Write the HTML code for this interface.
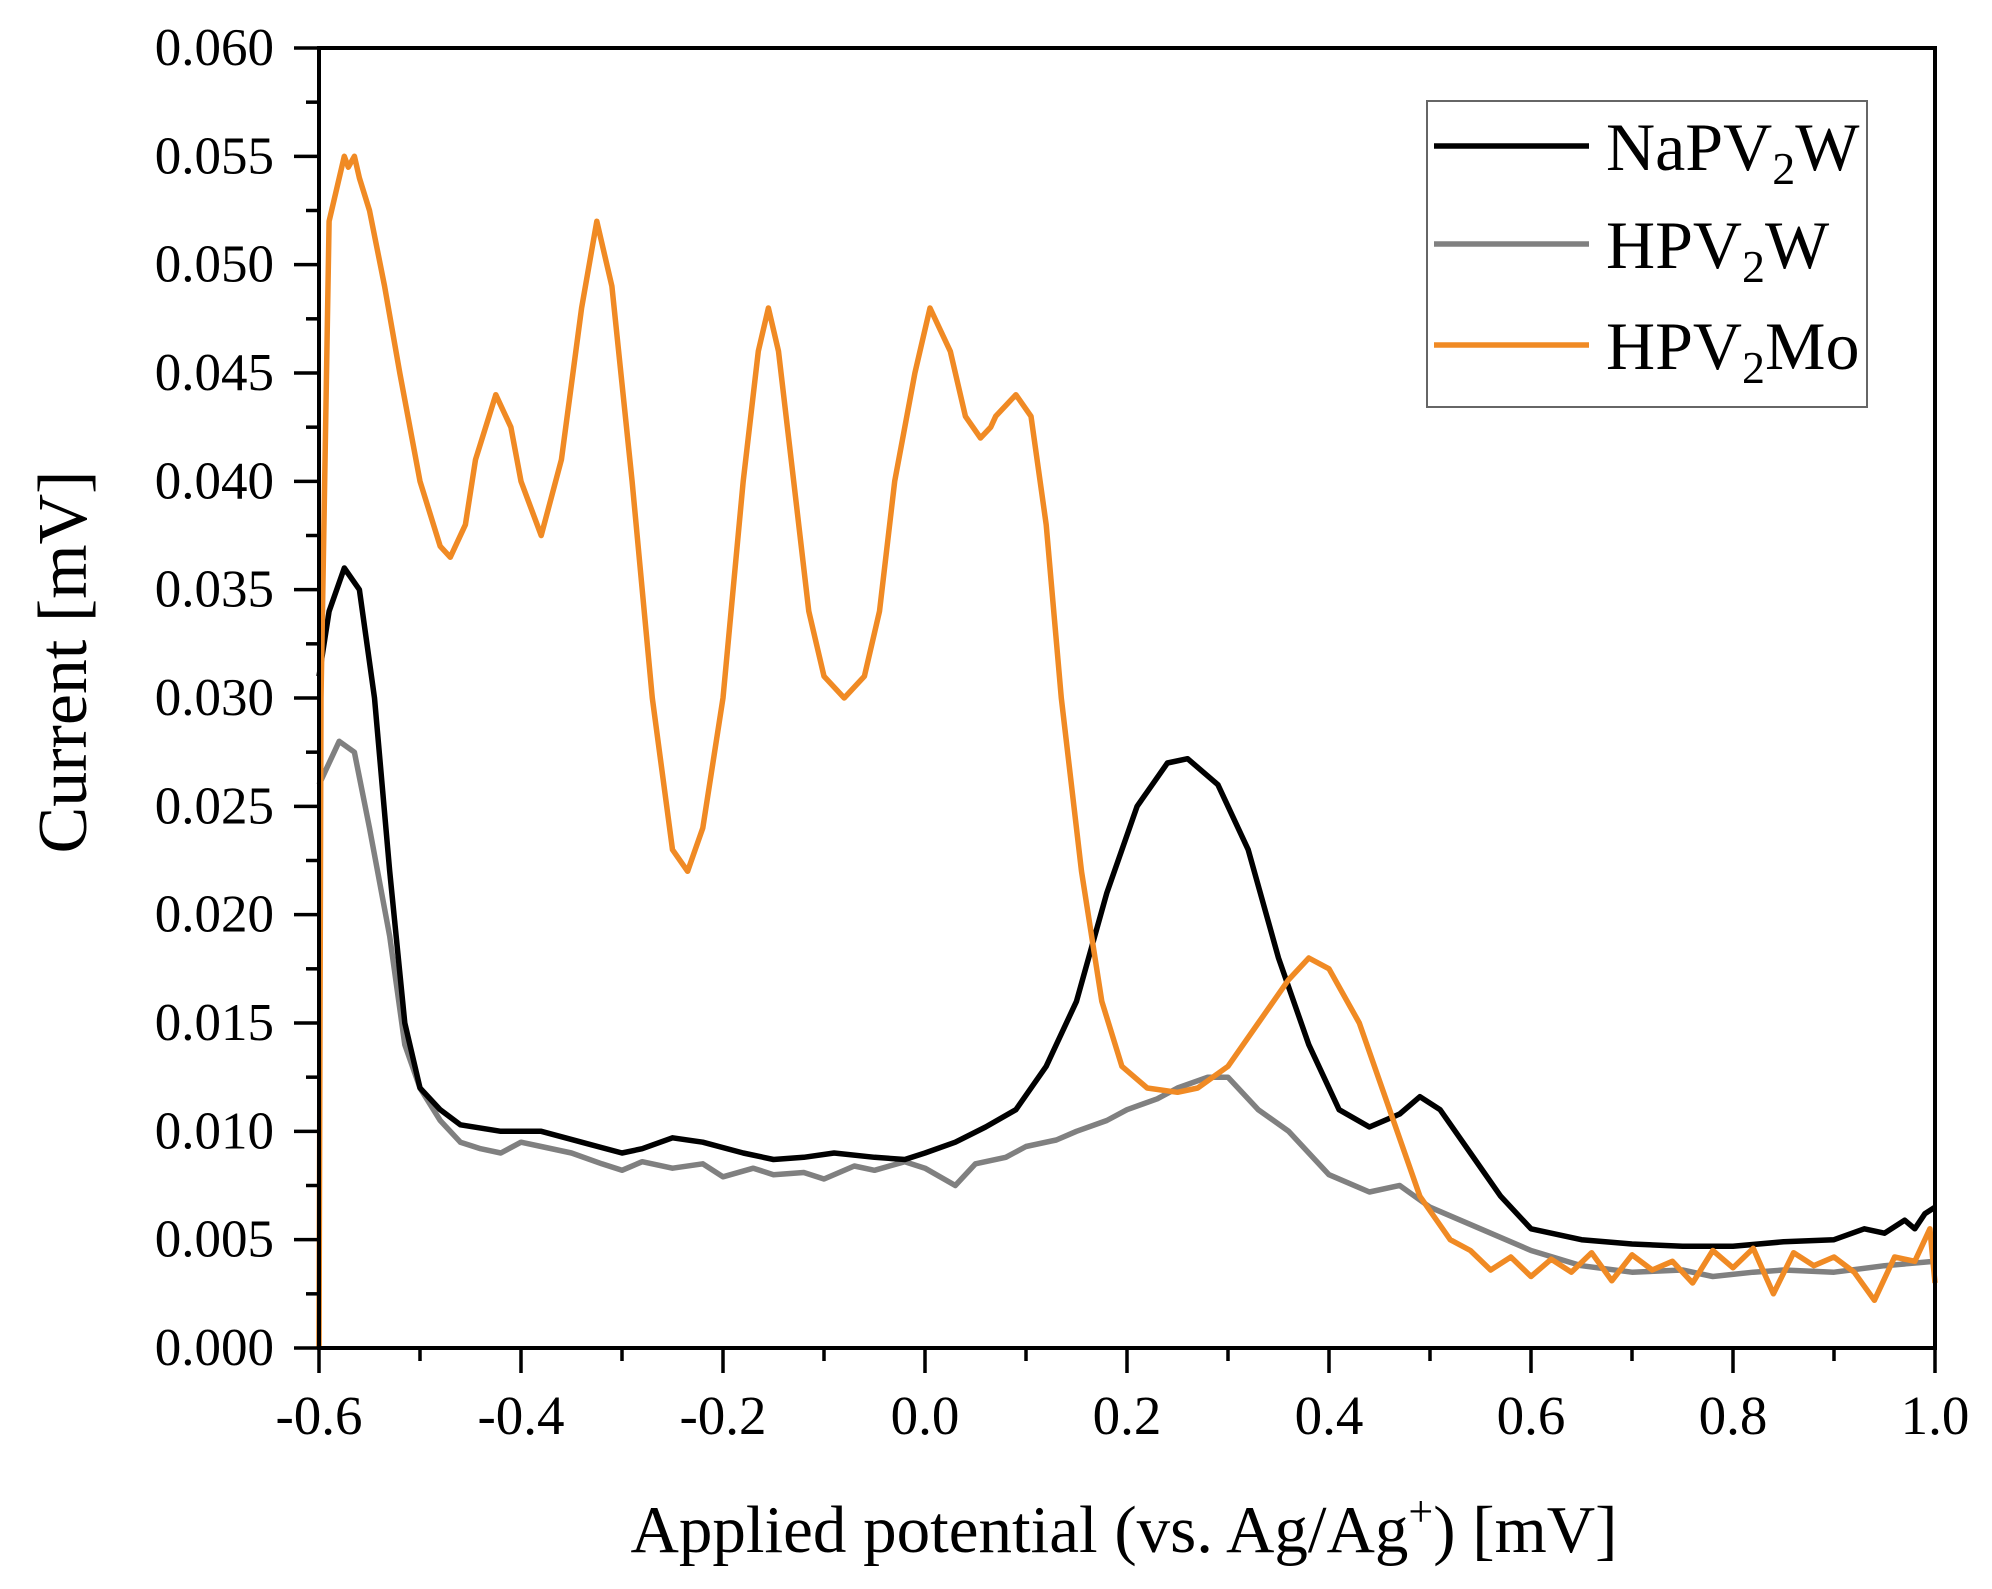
<!DOCTYPE html>
<html><head><meta charset="utf-8"><style>
html,body{margin:0;padding:0;background:#fff;}
svg{display:block;font-family:"Liberation Serif",serif;}
</style></head><body>
<svg id="chart" width="1992" height="1589" viewBox="0 0 1992 1589" xmlns="http://www.w3.org/2000/svg">
<g id="plot"></g>
<g id="axes"></g>
<text transform="translate(86,662) rotate(-90)" text-anchor="middle" font-size="70">Current [mV]</text>
<text x="1124" y="1552" text-anchor="middle" font-size="67">Applied potential (vs. Ag/Ag<tspan dy="-26" font-size="44">+</tspan><tspan dy="26">) [mV]</tspan></text>
<g>
<rect x="1427" y="101" width="440" height="306" fill="#fff" stroke="#666" stroke-width="2"/>
<g>
<line x1="1434" y1="146" x2="1589" y2="146" stroke="#000" stroke-width="5.5"/>
<text x="1606" y="170" font-size="68">NaPV<tspan dy="14" font-size="46">2</tspan><tspan dy="-14">W</tspan></text></g>
<g>
<line x1="1434" y1="244" x2="1589" y2="244" stroke="#808080" stroke-width="5.5"/>
<text x="1606" y="268" font-size="68">HPV<tspan dy="14" font-size="46">2</tspan><tspan dy="-14">W</tspan></text></g>
<g>
<line x1="1434" y1="345" x2="1589" y2="345" stroke="#f08a24" stroke-width="5.5"/>
<text x="1606" y="369" font-size="68">HPV<tspan dy="14" font-size="46">2</tspan><tspan dy="-14">Mo</tspan></text></g>
</g>
</svg>
<script>
const xTicks = [-0.6,-0.4,-0.2,0.0,0.2,0.4,0.6,0.8,1.0];
const xTickLabels = ["-0.6","-0.4","-0.2","0.0","0.2","0.4","0.6","0.8","1.0"];
const yTicks = [0,0.005,0.01,0.015,0.02,0.025,0.03,0.035,0.04,0.045,0.05,0.055,0.06];
const yTickLabels = ["0.000","0.005","0.010","0.015","0.020","0.025","0.030","0.035","0.040","0.045","0.050","0.055","0.060"];

const orangeX = [-0.6,-0.598,-0.59,-0.575,-0.571,-0.565,-0.56,-0.55,-0.535,-0.52,-0.5,-0.48,-0.47,-0.455,-0.445,-0.425,-0.41,-0.4,-0.38,-0.36,-0.34,-0.325,-0.31,-0.29,-0.27,-0.25,-0.235,-0.22,-0.2,-0.18,-0.165,-0.155,-0.145,-0.13,-0.115,-0.1,-0.08,-0.06,-0.045,-0.03,-0.01,0.005,0.025,0.04,0.055,0.065,0.07,0.08,0.09,0.105,0.12,0.135,0.155,0.175,0.195,0.22,0.25,0.27,0.3,0.33,0.36,0.38,0.4,0.43,0.46,0.49,0.52,0.54,0.56,0.58,0.6,0.62,0.64,0.66,0.68,0.7,0.72,0.74,0.76,0.78,0.8,0.82,0.84,0.86,0.88,0.9,0.92,0.94,0.96,0.98,0.995,1.0];
const orangeY = [0,0.03,0.052,0.055,0.0545,0.055,0.054,0.0525,0.049,0.045,0.04,0.037,0.0365,0.038,0.041,0.044,0.0425,0.04,0.0375,0.041,0.048,0.052,0.049,0.04,0.03,0.023,0.022,0.024,0.03,0.04,0.046,0.048,0.046,0.04,0.034,0.031,0.030,0.031,0.034,0.040,0.045,0.048,0.046,0.043,0.042,0.0425,0.043,0.0435,0.044,0.043,0.038,0.030,0.022,0.016,0.013,0.012,0.0118,0.012,0.013,0.015,0.017,0.018,0.0175,0.015,0.011,0.007,0.005,0.0045,0.0036,0.0042,0.0033,0.0041,0.0035,0.0044,0.0031,0.0043,0.0036,0.0040,0.0030,0.0045,0.0037,0.0046,0.0025,0.0044,0.0038,0.0042,0.0035,0.0022,0.0042,0.0040,0.0055,0.003];

const blackX = [-0.6,-0.59,-0.575,-0.56,-0.545,-0.53,-0.515,-0.5,-0.48,-0.46,-0.42,-0.38,-0.34,-0.3,-0.28,-0.25,-0.22,-0.18,-0.15,-0.12,-0.09,-0.05,-0.02,0.0,0.03,0.06,0.09,0.12,0.15,0.18,0.21,0.24,0.26,0.29,0.32,0.35,0.38,0.41,0.44,0.47,0.49,0.51,0.54,0.57,0.6,0.65,0.7,0.75,0.8,0.85,0.9,0.93,0.95,0.97,0.98,0.99,1.0];
const blackY = [0.031,0.034,0.036,0.035,0.030,0.022,0.015,0.012,0.011,0.0103,0.010,0.010,0.0095,0.009,0.0092,0.0097,0.0095,0.009,0.0087,0.0088,0.009,0.0088,0.0087,0.009,0.0095,0.0102,0.011,0.013,0.016,0.021,0.025,0.027,0.0272,0.026,0.023,0.018,0.014,0.011,0.0102,0.0108,0.0116,0.011,0.009,0.007,0.0055,0.005,0.0048,0.0047,0.0047,0.0049,0.005,0.0055,0.0053,0.0059,0.0055,0.0062,0.0065];

const grayX = [-0.6,-0.59,-0.58,-0.565,-0.55,-0.53,-0.515,-0.5,-0.48,-0.46,-0.44,-0.42,-0.4,-0.38,-0.35,-0.32,-0.3,-0.28,-0.25,-0.22,-0.2,-0.17,-0.15,-0.12,-0.1,-0.07,-0.05,-0.02,0.0,0.03,0.05,0.08,0.1,0.13,0.15,0.18,0.2,0.23,0.25,0.28,0.3,0.33,0.36,0.4,0.44,0.47,0.5,0.55,0.6,0.65,0.7,0.75,0.78,0.82,0.85,0.9,0.95,1.0];
const grayY = [0.026,0.027,0.028,0.0275,0.024,0.019,0.014,0.012,0.0105,0.0095,0.0092,0.009,0.0095,0.0093,0.009,0.0085,0.0082,0.0086,0.0083,0.0085,0.0079,0.0083,0.008,0.0081,0.0078,0.0084,0.0082,0.0086,0.0083,0.0075,0.0085,0.0088,0.0093,0.0096,0.010,0.0105,0.011,0.0115,0.012,0.0125,0.0125,0.011,0.010,0.008,0.0072,0.0075,0.0065,0.0055,0.0045,0.0038,0.0035,0.0036,0.0033,0.0035,0.0036,0.0035,0.0038,0.004];

const X0=319, X1=1935, Y0=1348, Y1=48;
const xs = v => X0 + (v - (-0.6)) / 1.6 * (X1 - X0);
const ys = v => Y0 - v / 0.06 * (Y0 - Y1);
const NS = "http://www.w3.org/2000/svg";
const plot = document.getElementById('plot');
const axes = document.getElementById('axes');

function drawLine(xa, ya, color, name) {
  const p = document.createElementNS(NS, 'path');
  p.setAttribute('d', xa.map((x, i) => (i ? 'L' : 'M') + xs(x).toFixed(1) + ' ' + ys(ya[i]).toFixed(1)).join(''));
  p.setAttribute('fill', 'none');
  p.setAttribute('stroke', color);
  p.setAttribute('stroke-width', '5.5');
  p.setAttribute('stroke-linejoin', 'round');
  
  
  plot.appendChild(p);
}
drawLine(grayX, grayY, '#808080', 'series-hpv2w');
drawLine(blackX, blackY, '#000000', 'series-napv2w');
drawLine(orangeX, orangeY, '#f08a24', 'series-hpv2mo');

function ln(x1, y1, x2, y2, w, name) {
  const l = document.createElementNS(NS, 'line');
  l.setAttribute('x1', x1); l.setAttribute('y1', y1);
  l.setAttribute('x2', x2); l.setAttribute('y2', y2);
  l.setAttribute('stroke', '#000'); l.setAttribute('stroke-width', w);
  
  
  axes.appendChild(l);
}
const frame = document.createElementNS(NS, 'rect');
frame.setAttribute('x', X0); frame.setAttribute('y', Y1);
frame.setAttribute('width', X1 - X0); frame.setAttribute('height', Y0 - Y1);
frame.setAttribute('fill', 'none'); frame.setAttribute('stroke', '#000'); frame.setAttribute('stroke-width', '4');


axes.appendChild(frame);

for (let i = 0; i < xTicks.length; i++) {
  const x = xs(xTicks[i]);
  ln(x, Y0, x, Y0 + 25, 3.5, 'x-tick');
  if (i < xTicks.length - 1) { const xm = xs(xTicks[i] + 0.1); ln(xm, Y0, xm, Y0 + 13, 3.5, 'x-minor-tick'); }
  const t = document.createElementNS(NS, 'text');
  t.setAttribute('x', x); t.setAttribute('y', 1434);
  t.setAttribute('text-anchor', 'middle'); t.setAttribute('font-size', '55');
  
  
  t.textContent = xTickLabels[i];
  axes.appendChild(t);
}
for (let i = 0; i < yTicks.length; i++) {
  const y = ys(yTicks[i]);
  ln(X0 - 25, y, X0, y, 3.5, 'y-tick');
  if (i < yTicks.length - 1) { const ym = ys(yTicks[i] + 0.0025); ln(X0 - 13, ym, X0, ym, 3.5, 'y-minor-tick'); }
  const t = document.createElementNS(NS, 'text');
  t.setAttribute('x', 274); t.setAttribute('y', y + 17);
  t.setAttribute('text-anchor', 'end'); t.setAttribute('font-size', '53');
  
  
  t.textContent = yTickLabels[i];
  axes.appendChild(t);
}
</script>
</body></html>
